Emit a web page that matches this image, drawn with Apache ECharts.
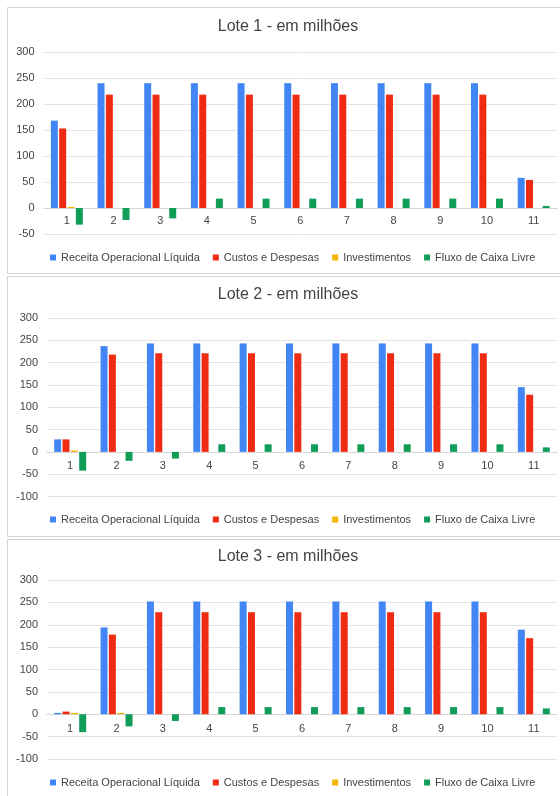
<!DOCTYPE html>
<html>
<head>
<meta charset="utf-8">
<script src="https://cdn.jsdelivr.net/npm/echarts@6/dist/echarts.min.js"></script>
<style>
html,body{margin:0;padding:0;background:#fff;}
#c{width:560px;height:796px;}
</style>
</head>
<body>
<div id="c"></div>
<script>
var categories = ['1','2','3','4','5','6','7','8','9','10','11'];
var seriesNames = ['Receita Operacional Líquida','Custos e Despesas','Investimentos','Fluxo de Caixa Livre'];
var titles = ['Lote 1 - em milhões','Lote 2 - em milhões','Lote 3 - em milhões'];

var lote1Receita = [168,240,240,240,240,240,240,240,240,240,58];
var lote1Custos  = [153,218,218,218,218,218,218,218,218,218,54];
var lote1Invest  = [2,0,0,0,0,0,0,0,0,0,0];
var lote1Fluxo   = [-32,-23,-20,18,18,18,18,18,18,18,4];

var lote2Receita = [28,237,243,243,243,243,243,243,243,243,145];
var lote2Custos  = [28,218,221,221,221,221,221,221,221,221,128];
var lote2Invest  = [3,0,0,0,0,0,0,0,0,0,0];
var lote2Fluxo   = [-42,-20,-15,17,17,17,17,17,17,17,10];

var lote3Receita = [3,194,252,252,252,252,252,252,252,252,189];
var lote3Custos  = [6,178,228,228,228,228,228,228,228,228,170];
var lote3Invest  = [3,3,0,0,0,0,0,0,0,0,0];
var lote3Fluxo   = [-40,-27,-15,16,16,16,16,16,16,16,13];

var yMin = [-50,-100,-100];
var yMax = [300,300,300];

var lotes = [
  [lote1Receita, lote1Custos, lote1Invest, lote1Fluxo],
  [lote2Receita, lote2Custos, lote2Invest, lote2Fluxo],
  [lote3Receita, lote3Custos, lote3Invest, lote3Fluxo]
];

var colors = ['#4285F4','#EF2B14','#F4B400','#0F9D58'];
var font = 'Liberation Sans, Arial, sans-serif';

var grids = [
  {left:43.5, right:3, top:52, height:182},
  {left:47, right:3, top:318, height:178.5},
  {left:47, right:3, top:580, height:179}
];
var labelMargin = [-19, -36, -36];
var titleY = [27, 295, 556.5];
var legendY = [247, 509, 772];
var panels = [[7.5,273.5],[276.5,536.5],[539.5,805]];

var xAxes = [], yAxes = [], series = [], legends = [], graphics = [];
for (var g=0; g<3; g++) {
  xAxes.push({
    type:'category', gridIndex:g, data:categories,
    axisTick:{show:false},
    axisLine:{show:true, onZero:true, lineStyle:{color:'#d6d6d6'}},
    axisLabel:{color:'#444', fontSize:11, fontFamily:font, margin:labelMargin[g]}
  });
  yAxes.push({
    type:'value', gridIndex:g, min:yMin[g], max:yMax[g], interval:50,
    axisLine:{show:false}, axisTick:{show:false},
    axisLabel:{color:'#444', fontSize:11, fontFamily:font, margin:9},
    splitLine:{lineStyle:{color:'#e4e4e4'}}
  });
  for (var s=0; s<4; s++) {
    series.push({
      name:seriesNames[s], type:'bar', xAxisIndex:g, yAxisIndex:g,
      data:lotes[g][s], barWidth:7, barGap:'19%',
      itemStyle:{color:colors[s]}, animation:false
    });
  }
  legends.push({
    data:seriesNames, top:legendY[g], left:45, itemWidth:6, itemHeight:6,
    itemGap:13, icon:'rect', selectedMode:false,
    textStyle:{color:'#444', fontSize:11, fontFamily:font}
  });
  graphics.push({
    type:'rect', shape:{x:7.5, y:panels[g][0], width:560, height:panels[g][1]-panels[g][0]},
    style:{fill:'none', stroke:'#d4d4d4', lineWidth:1}, silent:true, z:-1
  });
  graphics.push({
    type:'text', x:288, y:titleY[g],
    style:{text:titles[g], fill:'#444', font:'16px ' + font, textAlign:'center', textVerticalAlign:'middle'},
    silent:true
  });
}

var chart = echarts.init(document.getElementById('c'));
chart.setOption({
  animation:false,
  color:colors,
  grid:grids,
  xAxis:xAxes,
  yAxis:yAxes,
  legend:legends,
  series:series,
  graphic:graphics
});
</script>
</body>
</html>
